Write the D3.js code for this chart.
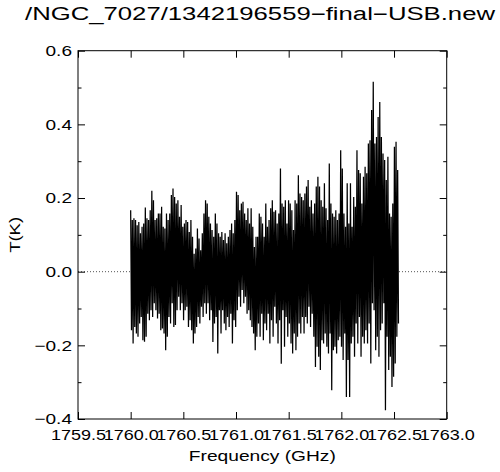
<!DOCTYPE html>
<html>
<head>
<meta charset="utf-8">
<script src="https://cdn.jsdelivr.net/npm/d3@7/dist/d3.min.js"></script>
<style>
  html, body { margin: 0; padding: 0; background: #fff; }
  svg { display: block; }
  text { font-family: "Liberation Sans", Arial, Helvetica, sans-serif; fill: #000; }
</style>
</head>
<body>
<svg id="chart" width="500" height="472"></svg>
<script>
// ---- data ----
const titleText = "/NGC_7027/1342196559\u2212final\u2212USB.new";
const xLabel = "Frequency (GHz)";
const yLabel = "T(K)";
const xTicks = [1759.5, 1760.0, 1760.5, 1761.0, 1761.5, 1762.0, 1762.5, 1763.0];
const yTicks = [-0.4, -0.2, 0.0, 0.2, 0.4, 0.6];
const yMinorTicks = [-0.3, -0.1, 0.1, 0.3, 0.5];
const freqStart = 1760.0;
const freqEnd = 1762.55;
// upper envelope of the spectrum (K), left to right
const hi = [
  0.167, 0.14, 0.145, 0.14, 0.126, 0.135, 0.104, 0.122, 0.131, 0.174, 0.145, 0.14, 0.167, 0.22, 0.194, 0.14, 0.145, 0.158, 0.158, 0.176, 0.122, 0.117, 0.158, 0.14,
  0.158, 0.208, 0.226, 0.203, 0.185, 0.194, 0.149, 0.181, 0.122, 0.131, 0.14, 0.135, 0.108, 0.14, 0.095, 0.049, 0.063, 0.117, 0.09, 0.058, 0.104, 0.158, 0.194, 0.185, 0.149, 0.131,
  0.113, 0.095, 0.158, 0.131, 0.104, 0.095, 0.108, 0.086, 0.104, 0.077, 0.095, 0.113, 0.131, 0.104, 0.14, 0.217, 0.208, 0.167, 0.185, 0.19, 0.158, 0.14, 0.172, 0.131, 0.172, 0.122, 0.067, 0.095,
  0.095, 0.158, 0.149, 0.131, 0.095, 0.185, 0.122, 0.14, 0.172, 0.194, 0.163, 0.167, 0.131, 0.158, 0.28, 0.185, 0.176, 0.194, 0.131, 0.194, 0.185, 0.167, 0.113, 0.194, 0.185, 0.262, 0.212, 0.203,
  0.194, 0.212, 0.231, 0.249, 0.176, 0.194, 0.158, 0.185, 0.231, 0.258, 0.231, 0.194, 0.176, 0.24, 0.172, 0.14, 0.294, 0.185, 0.158, 0.149, 0.167, 0.14, 0.158, 0.33, 0.28, 0.158, 0.122, 0.24,
  0.131, 0.24, 0.122, 0.203, 0.176, 0.33, 0.276, 0.267, 0.185, 0.258, 0.285, 0.267, 0.348, 0.357, 0.439, 0.516, 0.348, 0.366, 0.42, 0.461, 0.366, 0.321, 0.303, 0.249, 0.312, 0.158, 0.149, 0.185, 0.339, 0.353, 0.276
];
// lower envelope of the spectrum (K), left to right
const lo = [
  -0.159, -0.195, -0.15, -0.168, -0.177, -0.141, -0.123, -0.186, -0.19, -0.177, -0.114, -0.132, -0.105, -0.123, -0.086, -0.105, -0.127, -0.114, -0.159, -0.154, -0.168, -0.213, -0.177, -0.123,
  -0.141, -0.086, -0.15, -0.145, -0.105, -0.068, -0.105, -0.086, -0.132, -0.105, -0.095, -0.15, -0.132, -0.159, -0.195, -0.168, -0.15, -0.123, -0.141, -0.095, -0.123, -0.086, -0.114, -0.086, -0.132, -0.105,
  -0.191, -0.141, -0.123, -0.222, -0.105, -0.168, -0.105, -0.141, -0.159, -0.123, -0.15, -0.114, -0.195, -0.132, -0.15, -0.105, -0.068, -0.095, -0.05, -0.086, -0.068, -0.114, -0.105, -0.132, -0.15, -0.168, -0.213, -0.177,
  -0.141, -0.177, -0.114, -0.186, -0.141, -0.159, -0.114, -0.195, -0.132, -0.177, -0.095, -0.141, -0.195, -0.132, -0.25, -0.105, -0.204, -0.123, -0.177, -0.141, -0.195, -0.222, -0.168, -0.213, -0.177, -0.141, -0.168, -0.123,
  -0.168, -0.123, -0.141, -0.095, -0.15, -0.114, -0.177, -0.259, -0.204, -0.231, -0.267, -0.186, -0.195, -0.168, -0.204, -0.222, -0.168, -0.322, -0.213, -0.204, -0.222, -0.186, -0.177, -0.204, -0.24, -0.168, -0.34, -0.24,
  -0.34, -0.195, -0.177, -0.231, -0.141, -0.195, -0.123, -0.231, -0.177, -0.195, -0.159, -0.195, -0.141, -0.249, -0.086, -0.105, -0.213, -0.177, -0.231, -0.159, -0.141, -0.086, -0.376, -0.177, -0.267, -0.231, -0.313, -0.285, -0.249, -0.177, -0.141
];

// ---- layout ----
const svg = d3.select("#chart");
const margin = { left: 78, right: 53.3, top: 50.7, bottom: 53 };
const W = 500, H = 472;
const x = d3.scaleLinear().domain([1759.5, 1763.0]).range([margin.left, W - margin.right]);
const y = d3.scaleLinear().domain([-0.4, 0.6]).range([H - margin.bottom, margin.top]);

function stretch(sel, factor) {
  sel.each(function () {
    const w = this.getComputedTextLength();
    d3.select(this).attr("textLength", w * factor).attr("lengthAdjust", "spacingAndGlyphs");
  });
}

// zero dotted line
svg.append("line")
  .attr("x1", x.range()[0]).attr("x2", x.range()[1])
  .attr("y1", y(0)).attr("y2", y(0))
  .attr("stroke", "#555").attr("stroke-width", 1).attr("stroke-dasharray", "1,2");

// spectrum points: alternate upper / lower envelope
const n = hi.length;
const step = (freqEnd - freqStart) / n;
const pts = [];
for (let i = 0; i < n; i++) {
  pts.push([freqStart + i * step, hi[i]]);
  pts.push([freqStart + (i + 0.5) * step, lo[i]]);
}
svg.append("path")
  .datum(pts)
  .attr("fill", "none")
  .attr("stroke", "#000")
  .attr("stroke-width", 1.25)
  .attr("stroke-linejoin", "miter")
  .attr("stroke-miterlimit", 1)
  .attr("d", d3.line().x(d => x(d[0])).y(d => y(d[1])));

// axes
const fmt = d3.format(".1f");
const gB = svg.append("g").attr("transform", `translate(0,${y.range()[0]})`)
  .call(d3.axisBottom(x).tickValues(xTicks).tickFormat(fmt).tickSize(-7).tickPadding(10));
const gT = svg.append("g").attr("transform", `translate(0,${y.range()[1]})`)
  .call(d3.axisTop(x).tickValues(xTicks).tickFormat("").tickSize(-7));
const gL = svg.append("g").attr("transform", `translate(${x.range()[0]},0)`)
  .call(d3.axisLeft(y).tickValues(yTicks).tickFormat(fmt).tickSize(-7).tickPadding(6));
const gLm = svg.append("g").attr("transform", `translate(${x.range()[0]},0)`)
  .call(d3.axisLeft(y).tickValues(yMinorTicks).tickFormat("").tickSize(-3.5));
const gR = svg.append("g").attr("transform", `translate(${x.range()[1]},0)`)
  .call(d3.axisRight(y).tickValues(yTicks).tickFormat("").tickSize(-7));
const gRm = svg.append("g").attr("transform", `translate(${x.range()[1]},0)`)
  .call(d3.axisRight(y).tickValues(yMinorTicks).tickFormat("").tickSize(-3.5));

[gB, gT, gL, gLm, gR, gRm].forEach(g => {
  g.select(".domain").remove();
  g.selectAll(".tick line").attr("stroke", "#000").attr("stroke-width", 1);
  g.selectAll("text").attr("font-size", 15).attr("font-family", null).attr("fill", "#000");
});
stretch(gB.selectAll("text"), 1.2);
stretch(gL.selectAll("text"), 1.27);

// frame
svg.append("rect")
  .attr("x", x.range()[0]).attr("y", y.range()[1])
  .attr("width", x.range()[1] - x.range()[0])
  .attr("height", y.range()[0] - y.range()[1])
  .attr("fill", "none").attr("stroke", "#000").attr("stroke-width", 1);

// title
svg.append("text")
  .attr("x", 260).attr("y", 20)
  .attr("text-anchor", "middle")
  .attr("font-size", 18)
  .attr("textLength", 470).attr("lengthAdjust", "spacingAndGlyphs")
  .text(titleText);

// x axis title
svg.append("text")
  .attr("x", (x.range()[0] + x.range()[1]) / 2).attr("y", 461)
  .attr("text-anchor", "middle")
  .attr("font-size", 15)
  .attr("textLength", 147).attr("lengthAdjust", "spacingAndGlyphs")
  .text(xLabel);

// y axis title
svg.append("text")
  .attr("transform", `translate(20,${(y.range()[0] + y.range()[1]) / 2}) rotate(-90)`)
  .attr("text-anchor", "middle")
  .attr("font-size", 15)
  .attr("textLength", 36).attr("lengthAdjust", "spacingAndGlyphs")
  .text(yLabel);
</script>
</body>
</html>
